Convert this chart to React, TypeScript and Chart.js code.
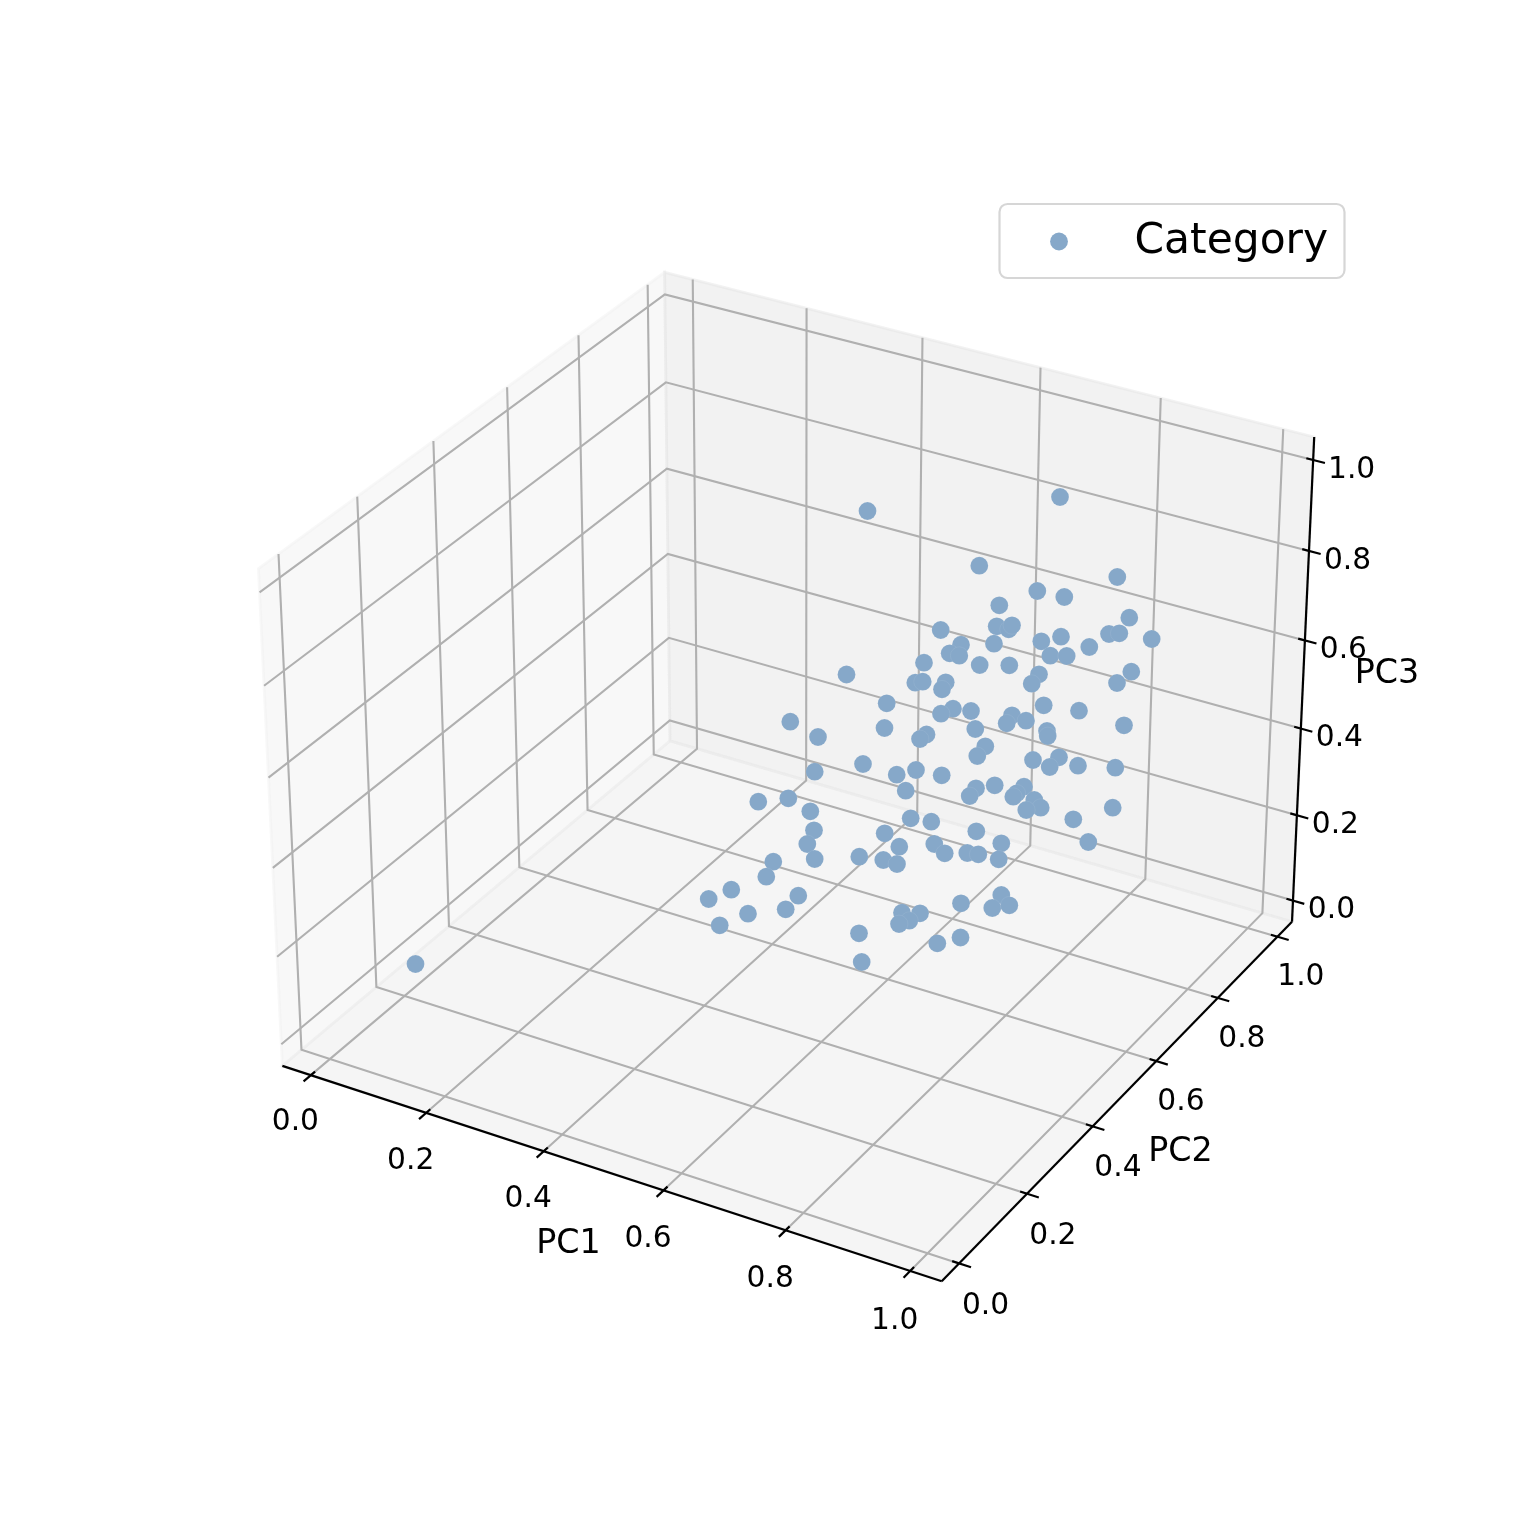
import React, { useEffect, useRef } from "react";
import { Chart, registerables } from "chart.js";

Chart.register(...registerables);

// Projected position of every sample on the 3D view plane
const viewX = [
  415.5, 867.5, 1060, 979.3, 1117.3, 1037.3, 1064.3, 999.3, 1129.3, 940.7, 996.7, 1008.7, 1012, 1061, 1041.3, 1109, 1119.3, 1151.7,
  994, 961, 949.7, 959.3, 1050.3, 1066.7, 1089.3, 924, 979.7, 1009.3, 1131.3, 846.5, 1039, 1031.7, 1117, 915.3, 922.7, 945.7, 942,
  886.7, 1043.7, 1079, 953, 941, 971, 1012, 1006.7, 1026, 1124, 884.5, 926.5, 975.3, 1047, 1047.7, 920, 985.3, 977.3, 1033, 1059,
  1049.7, 1078, 1115.3, 896.7, 916, 941.7, 905.7, 976, 969.7, 994.7, 1024, 1016.7, 1013.3, 1034.3, 1040.7, 1026.3, 1112.7, 1073.3,
  910.7, 931.3, 976.3, 1088.3, 1001.3, 934.3, 944.7, 967.3, 978.3, 998.7, 899.3, 883.3, 897, 884.7, 961, 1001.3, 992.3, 1009.3, 902,
  920, 909.3, 899, 790.3, 818, 863, 814.7, 758.3, 788.3, 810.3, 814, 807.3, 814.7, 859.3, 773.3, 766.3, 731.3, 708.7, 798.3, 785.7,
  748, 719.7, 859, 937.3, 861.7, 960.5,
];
const viewY = [
  964, 511, 497, 565.7, 577, 591, 597, 605.3, 617.7, 630, 626.3, 629.3, 625.3, 636.7, 641.3, 634, 633.3, 639,
  643.7, 644.7, 653.3, 655.7, 655.7, 656, 647, 662.7, 665, 665.3, 671.7, 674.5, 674.3, 683.7, 683, 682.7, 681.7, 682.3, 689.3,
  703.3, 705.3, 710.7, 708.7, 713.7, 711, 715.3, 723.3, 720.7, 725.3, 728, 734.5, 729, 731, 736, 739, 746.3, 756, 760, 757.3,
  767, 765.7, 767.7, 774.7, 770, 775.3, 790.7, 788.3, 796, 785.3, 786.7, 793.3, 796.7, 800, 807.7, 810, 807.7, 819.3,
  818.3, 821.7, 831.3, 842, 843.3, 844, 853.3, 853, 854.3, 859.3, 846.7, 860, 864, 833.3, 903.3, 895, 908, 905.3, 912.7,
  913.3, 920.7, 924, 721.7, 737, 764, 771.7, 801.7, 798.3, 811.3, 830.3, 844, 859, 856.7, 861.7, 876.7, 889.7, 899, 895.7, 909.3,
  913.7, 925.3, 933.3, 943.3, 962, 937.5,
];
const tickValues = [0, 0.2, 0.4, 0.6, 0.8, 1.0];
const tickLabels = ["0.0", "0.2", "0.4", "0.6", "0.8", "1.0"];
const seriesName = "Category";
const axisTitles = ["PC1", "PC2", "PC3"];

const LO = -0.05;
const HI = 1.05;
const FONT = '"DejaVu Sans"';
const POINT = "#86a8c9";
const GRID = "#b0b0b0";

// matplotlib-style perspective projection (elev 30, azim -60, dist 10, box aspect 4:4:3)
const BOX = [1.1905, 1.1905, 0.8929];
const U = [0.866, 0.5, 0];
const V = [-0.25, 0.433, 0.866];
const W = [0.433, -0.75, 0.5];
const K = 6345;
const CX = 796.5;
const CY = 752.5;
function project(x: number, y: number, z: number): [number, number] {
  const d = [x, y, z].map((v, i) => ((v - LO) / (HI - LO) - 0.5) * BOX[i]);
  const dot = (a: number[]) => a[0] * d[0] + a[1] * d[1] + a[2] * d[2];
  const den = 10 - dot(W);
  return [CX + (K * dot(U)) / den, CY - (K * dot(V)) / den];
}

function poly(ctx: CanvasRenderingContext2D, pts: [number, number, number][], close = false) {
  ctx.beginPath();
  pts.forEach((p, i) => {
    const [a, b] = project(p[0], p[1], p[2]);
    if (i === 0) ctx.moveTo(a, b);
    else ctx.lineTo(a, b);
  });
  if (close) ctx.closePath();
}

const cubePlugin = {
  id: "cube3d",
  beforeDatasetsDraw(chart: any) {
    const ctx: CanvasRenderingContext2D = chart.ctx;
    ctx.save();
    ctx.lineJoin = "miter";
    const panes: [[number, number, number][], string][] = [
      [[[LO, LO, LO], [LO, HI, LO], [LO, HI, HI], [LO, LO, HI]], "rgba(242,242,242,0.5)"],
      [[[LO, HI, LO], [HI, HI, LO], [HI, HI, HI], [LO, HI, HI]], "rgba(230,230,230,0.5)"],
      [[[LO, LO, LO], [HI, LO, LO], [HI, HI, LO], [LO, HI, LO]], "rgba(236,236,236,0.5)"],
    ];
    for (const [pts, c] of panes) {
      poly(ctx, pts, true);
      ctx.fillStyle = c;
      ctx.fill();
      ctx.strokeStyle = c;
      ctx.lineWidth = 2.8;
      ctx.stroke();
    }
    ctx.strokeStyle = GRID;
    ctx.lineWidth = 2.1;
    for (const t of tickValues) {
      poly(ctx, [[t, LO, LO], [t, HI, LO], [t, HI, HI]]);
      ctx.stroke();
      poly(ctx, [[HI, t, LO], [LO, t, LO], [LO, t, HI]]);
      ctx.stroke();
      poly(ctx, [[LO, LO, t], [LO, HI, t], [HI, HI, t]]);
      ctx.stroke();
    }
    ctx.strokeStyle = "#000";
    ctx.lineWidth = 2.2;
    poly(ctx, [[LO, LO, LO], [HI, LO, LO]]);
    ctx.stroke();
    poly(ctx, [[HI, LO, LO], [HI, HI, LO]]);
    ctx.stroke();
    poly(ctx, [[HI, HI, LO], [HI, HI, HI]]);
    ctx.stroke();
    const out = 0.019;
    const inn = 0.011;
    for (const t of tickValues) {
      poly(ctx, [[t, LO - out, LO], [t, LO + inn, LO]]);
      ctx.stroke();
      poly(ctx, [[HI + out, t, LO], [HI - inn, t, LO]]);
      ctx.stroke();
      poly(ctx, [[HI + out, HI, t], [HI - inn, HI, t]]);
      ctx.stroke();
    }
    ctx.restore();
  },
  afterDatasetsDraw(chart: any) {
    const ctx: CanvasRenderingContext2D = chart.ctx;
    ctx.save();
    ctx.fillStyle = "#000";
    ctx.textAlign = "center";
    ctx.textBaseline = "middle";
    ctx.font = `29.7px ${FONT}`;
    tickValues.forEach((t, i) => {
      const a = project(t, LO, LO);
      ctx.fillText(tickLabels[i], a[0] - 15.5, a[1] + 47.5 + 2.5 * t);
      const b = project(HI, t, LO);
      ctx.fillText(tickLabels[i], b[0] + 26.5 - 3 * t, b[1] + 43 - 2.5 * t);
      const c = project(HI, HI, t);
      ctx.fillText(tickLabels[i], c[0] + 38.5, c[1] + 10);
    });
    ctx.font = `33.3px ${FONT}`;
    ctx.fillText(axisTitles[0], 568.5, 1244);
    ctx.fillText(axisTitles[1], 1180.5, 1152);
    ctx.fillText(axisTitles[2], 1387, 674);

    // legend
    ctx.beginPath();
    ctx.roundRect(999.5, 204, 345, 74, 8);
    ctx.fillStyle = "rgba(255,255,255,0.8)";
    ctx.fill();
    ctx.strokeStyle = "#d6d6d6";
    ctx.lineWidth = 2.2;
    ctx.stroke();
    ctx.beginPath();
    ctx.arc(1059, 241.5, 8.9, 0, Math.PI * 2);
    ctx.fillStyle = POINT;
    ctx.fill();
    ctx.fillStyle = "#000";
    ctx.textAlign = "left";
    ctx.textBaseline = "alphabetic";
    ctx.font = `42.4px ${FONT}`;
    ctx.fillText(chart.data.datasets[0].label, 1134.5, 253);
    ctx.restore();
  },
};

export default function App() {
  const ref = useRef<HTMLCanvasElement>(null);
  useEffect(() => {
    const chart = new Chart(ref.current!, {
      type: "scatter",
      data: {
        datasets: [
          {
            label: seriesName,
            data: viewX.map((x, i) => ({ x, y: viewY[i] })),
            backgroundColor: POINT,
            borderColor: "rgba(255,255,255,0.12)",
            borderWidth: 0.6,
            pointRadius: 8.9,
          },
        ],
      },
      options: {
        animation: false,
        responsive: false,
        layout: { padding: 0, autoPadding: false },
        plugins: { legend: { display: false }, tooltip: { enabled: false }, title: { display: false } },
        scales: {
          x: { type: "linear", display: false, min: 0, max: 1522 },
          y: { type: "linear", display: false, min: 0, max: 1522, reverse: true },
        },
      },
      plugins: [cubePlugin],
    } as any);
    return () => chart.destroy();
  }, []);
  return (
    <canvas
      ref={ref}
      width={1522}
      height={1522}
      style={{ position: "absolute", top: 0, left: 0, width: 1522, height: 1522, display: "block" }}
    />
  );
}
